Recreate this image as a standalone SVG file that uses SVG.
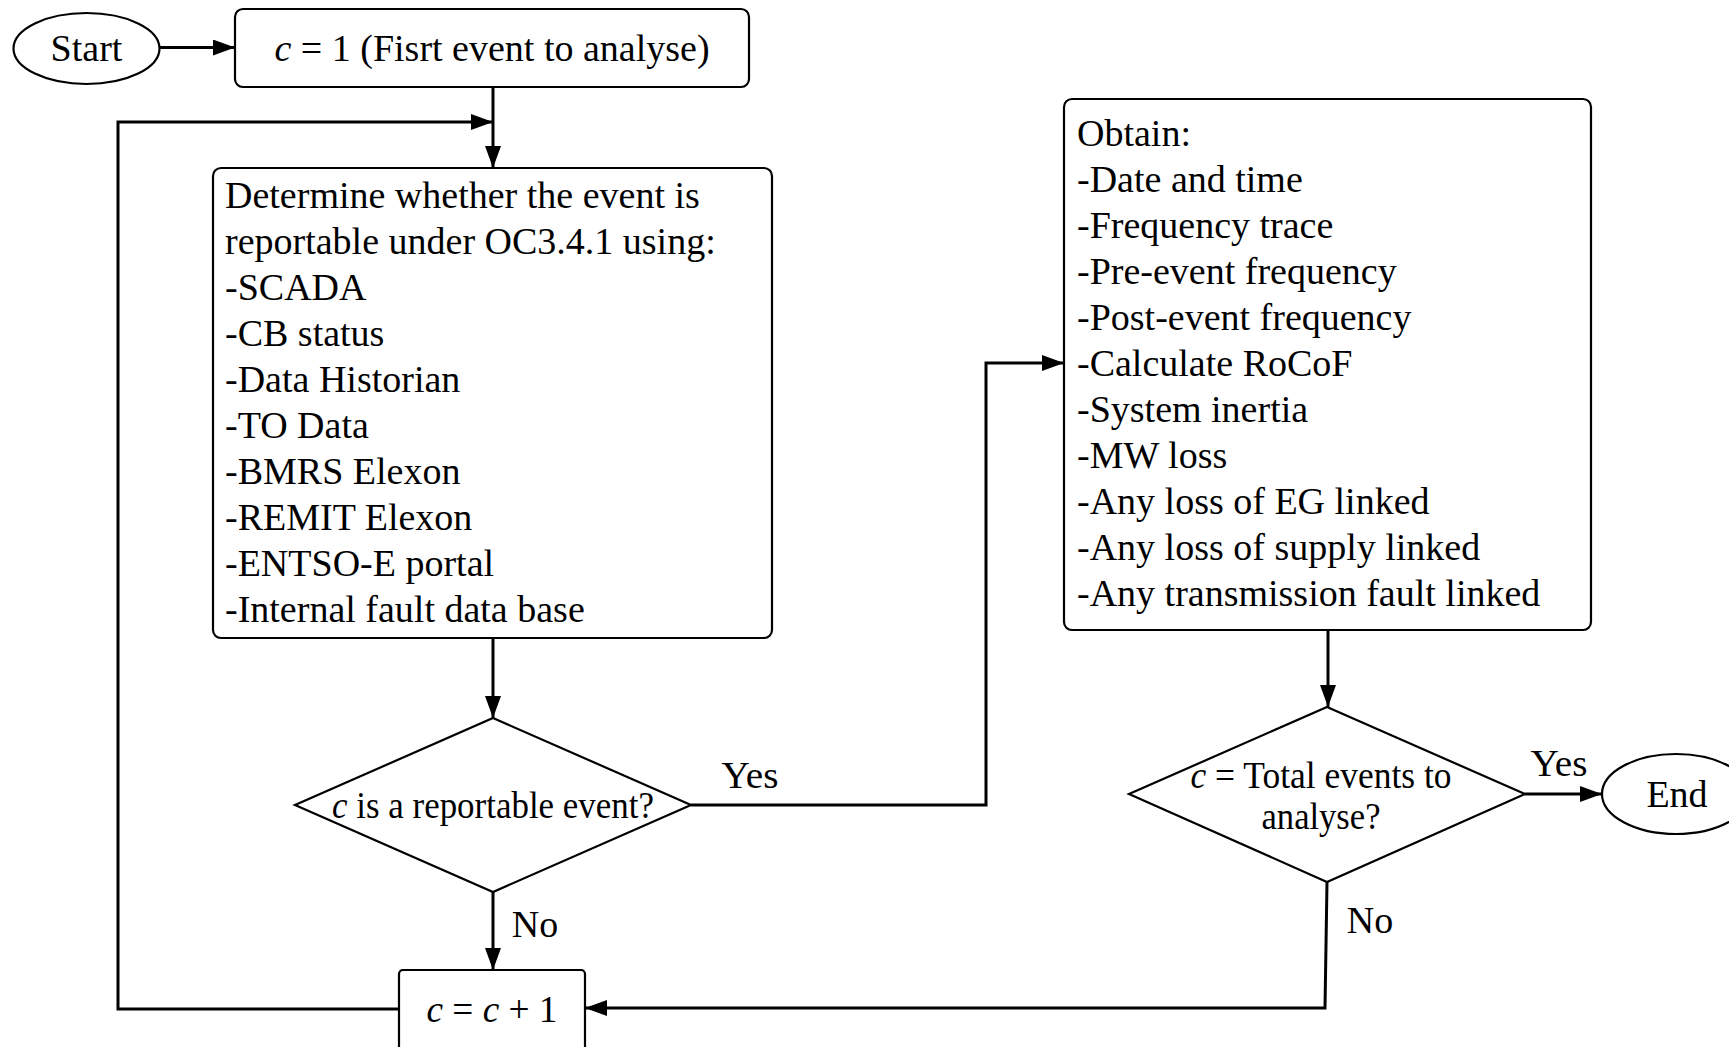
<svg xmlns="http://www.w3.org/2000/svg" width="1729" height="1047" viewBox="0 0 1729 1047">
<style>
text{font-family:"Liberation Serif","Times New Roman",serif;font-size:38px;fill:#000}
.i{font-style:italic}
.shape{fill:#fff;stroke:#000;stroke-width:2.2}
.conn{fill:none;stroke:#000;stroke-width:3}
</style>
<defs>
<marker id="ah" viewBox="0 0 22 16" refX="22" refY="8" markerWidth="22" markerHeight="16" markerUnits="userSpaceOnUse" orient="auto">
<path d="M0,0 L22,8 L0,16 Z" fill="#000"/>
</marker>
</defs>
<rect width="1729" height="1047" fill="#fff"/>
<g id="connectors">
<path class="conn" d="M160,47.5 H235" marker-end="url(#ah)"/>
<path class="conn" d="M493,87 V168" marker-end="url(#ah)"/>
<path class="conn" d="M399,1009 H118 V122 H493" marker-end="url(#ah)"/>
<path class="conn" d="M493,638 V718" marker-end="url(#ah)"/>
<path class="conn" d="M691,805 H986 V363 H1064" marker-end="url(#ah)"/>
<path class="conn" d="M493,892 V970" marker-end="url(#ah)"/>
<path class="conn" d="M1328,630 V707" marker-end="url(#ah)"/>
<path class="conn" d="M1525,794 H1602" marker-end="url(#ah)"/>
<path class="conn" d="M1327,882 L1325,1008 H585" marker-end="url(#ah)"/>
<text x="750" y="788" text-anchor="middle" textLength="57" lengthAdjust="spacingAndGlyphs">Yes</text>
<text x="535" y="937" text-anchor="middle">No</text>
<text x="1559" y="776" text-anchor="middle" textLength="57" lengthAdjust="spacingAndGlyphs">Yes</text>
<text x="1370" y="933" text-anchor="middle">No</text>
</g>
<g id="start">
<ellipse class="shape" cx="86.5" cy="48.5" rx="73" ry="35.5"/>
<text x="86.5" y="61" text-anchor="middle">Start</text>
</g>
<g id="init">
<rect class="shape" x="235" y="9" width="514" height="78" rx="8"/>
<text x="492" y="61" text-anchor="middle"><tspan class="i">c</tspan> = 1 (Fisrt event to analyse)</text>
</g>
<g id="determine">
<rect class="shape" x="213" y="168" width="559" height="470" rx="8"/>
<text x="225" y="208">Determine whether the event is</text>
<text x="225" y="254">reportable under OC3.4.1 using:</text>
<text x="225" y="300">-SCADA</text>
<text x="225" y="346">-CB status</text>
<text x="225" y="392">-Data Historian</text>
<text x="225" y="438">-TO Data</text>
<text x="225" y="484">-BMRS Elexon</text>
<text x="225" y="530">-REMIT Elexon</text>
<text x="225" y="576">-ENTSO-E portal</text>
<text x="225" y="622">-Internal fault data base</text>
</g>
<g id="reportable">
<path class="shape" d="M493,718 L691,805 L493,892 L295,805 Z"/>
<text x="493" y="818" text-anchor="middle" textLength="322" lengthAdjust="spacingAndGlyphs"><tspan class="i">c</tspan> is a reportable event?</text>
</g>
<g id="obtain">
<rect class="shape" x="1064" y="99" width="527" height="531" rx="8"/>
<text x="1077" y="146">Obtain:</text>
<text x="1077" y="192">-Date and time</text>
<text x="1077" y="238">-Frequency trace</text>
<text x="1077" y="284">-Pre-event frequency</text>
<text x="1077" y="330">-Post-event frequency</text>
<text x="1077" y="376">-Calculate RoCoF</text>
<text x="1077" y="422">-System inertia</text>
<text x="1077" y="468">-MW loss</text>
<text x="1077" y="514">-Any loss of EG linked</text>
<text x="1077" y="560">-Any loss of supply linked</text>
<text x="1077" y="606">-Any transmission fault linked</text>
</g>
<g id="total">
<path class="shape" d="M1327,707 L1525,794 L1327,882 L1129,794 Z"/>
<text x="1321" y="788" text-anchor="middle" textLength="261" lengthAdjust="spacingAndGlyphs"><tspan class="i">c</tspan> = Total events to</text>
<text x="1321" y="829" text-anchor="middle" textLength="119" lengthAdjust="spacingAndGlyphs">analyse?</text>
</g>
<g id="end">
<ellipse class="shape" cx="1676" cy="794" rx="74" ry="40"/>
<text x="1677" y="807" text-anchor="middle">End</text>
</g>
<g id="increment">
<rect class="shape" x="399" y="970" width="186" height="95" rx="4"/>
<text x="492" y="1022" text-anchor="middle" textLength="131" lengthAdjust="spacingAndGlyphs"><tspan class="i">c</tspan> = <tspan class="i">c</tspan> + 1</text>
</g>
</svg>
